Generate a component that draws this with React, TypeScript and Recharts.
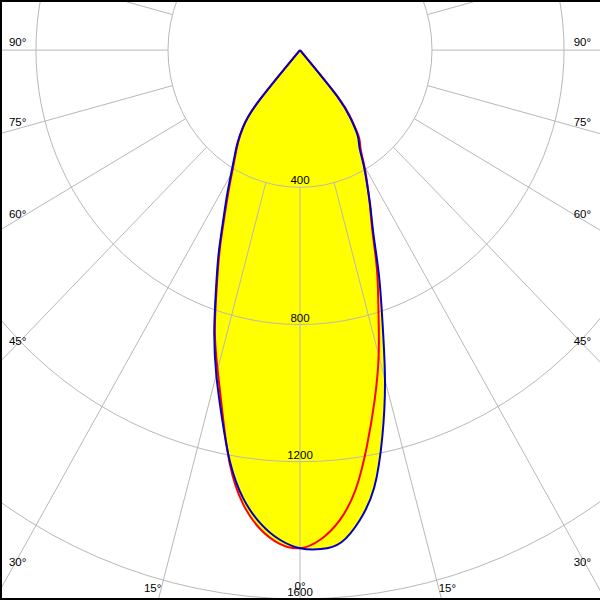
import React from "react";
import {
  ScatterChart,
  Scatter,
  XAxis,
  YAxis,
  ReferenceArea,
  ReferenceLine,
  ReferenceDot,
  Curve,
} from "recharts";

// gamma = angle from nadir (deg), intensities in cd
const gammaDeg = [0, 2.5, 5, 7.5, 10, 12.5, 15, 17.5, 20, 22.5, 25, 27.5, 30, 32.5, 35, 37.5, 40, 42.5, 45];
// C0 / C180 plane (red)
const redRight = [1452, 1428, 1376, 1292, 1170, 1045, 921, 790, 682, 575, 502, 442, 390, 342, 312, 260, 178, 0, 0];
const redLeft = [1452, 1440, 1400, 1332, 1225, 1085, 965, 858, 738, 638, 545, 472, 412, 365, 326, 282, 198, 0, 0];
// C90 / C270 plane (blue)
const blueRight = [1452, 1456, 1440, 1383, 1295, 1153, 995, 831, 700, 582, 505, 440, 385, 335, 305, 253, 175, 0, 0];
const blueLeft = [1452, 1428, 1384, 1318, 1220, 1095, 980, 864, 745, 645, 552, 480, 418, 370, 330, 285, 200, 0, 0];

const rings = [400, 800, 1200, 1600];
const ringLabels = ["400", "800", "1200", "1600"];
const spokeAngles = [0, 15, 30, 45, 60, 75, 90, 105, 120, 135, 150, 165, 180, 195, 210, 225, 240, 255, 270, 285, 300, 315, 330, 345];
const angleLabels = [0, 15, 30, 45, 60, 75, 90];

const W = 600;
const H = 600;
const X_DOMAIN = [-909, 909];
const Y_DOMAIN = [-1603, 146];
const SPOKE_OUT = 2600;
const SIDE_X = 882; // where side labels sit
const BOTTOM_Y = 1568; // where bottom labels sit
const GRID = "#b8b8b8";
const FONT = "'Liberation Sans', Arial, sans-serif";

const rad = (d: number) => (d * Math.PI) / 180;

// right half from the top cusp down to nadir, then left half back up
function toPoints(right: number[], left: number[]) {
  const pts: { x: number; y: number }[] = [];
  const push = (x: number, y: number) => {
    const last = pts[pts.length - 1];
    if (last && Math.abs(last.x - x) < 1e-9 && Math.abs(last.y - y) < 1e-9) return;
    pts.push({ x, y });
  };
  for (let i = gammaDeg.length - 1; i >= 0; i--) {
    const g = rad(gammaDeg[i]);
    push(right[i] * Math.sin(g), -right[i] * Math.cos(g));
  }
  for (let i = 1; i < gammaDeg.length; i++) {
    const g = rad(gammaDeg[i]);
    push(-left[i] * Math.sin(g), -left[i] * Math.cos(g));
  }
  return pts;
}

const redPts = toPoints(redRight, redLeft);
const bluePts = toPoints(blueRight, blueLeft);

const noDot = () => null;
const yellowFill = (p: any) => <Curve points={p.points} type="natural" fill="#ffff00" stroke="none" />;

export default function App() {
  const labelDots: { x: number; y: number; text: string; anchor: string; dy: number }[] = [];
  angleLabels.forEach((a) => {
    const g = rad(a);
    const sides = a === 0 ? [0] : [-1, 1];
    sides.forEach((s) => {
      if (a >= 30) {
        labelDots.push({
          x: s * SIDE_X,
          y: (-SIDE_X * Math.cos(g)) / Math.sin(g),
          text: `${a}°`,
          anchor: s < 0 ? "start" : "end",
          dy: -8 - 5 * Math.cos(g),
        });
      } else {
        labelDots.push({
          x: s * BOTTOM_Y * Math.tan(g),
          y: -BOTTOM_Y,
          text: `${a}°`,
          anchor: s < 0 ? "end" : s > 0 ? "start" : "middle",
          dy: a === 0 ? -2 : 0,
        });
      }
    });
  });

  return (
    <div style={{ position: "absolute", left: 0, top: 0, width: W, height: H, overflow: "hidden", background: "#fff" }}>
      <ScatterChart width={W} height={H} margin={{ top: 0, right: 0, bottom: 0, left: 0 }}>
        <XAxis type="number" dataKey="x" domain={X_DOMAIN} allowDataOverflow hide />
        <YAxis type="number" dataKey="y" domain={Y_DOMAIN} allowDataOverflow hide />

        {/* yellow lobes */}
        <Scatter data={redPts} shape={noDot} line={yellowFill} isAnimationActive={false} zIndex={50} />
        <Scatter data={bluePts} shape={noDot} line={yellowFill} isAnimationActive={false} zIndex={50} />

        {/* grid rings */}
        {rings.map((r) => (
          <ReferenceArea
            key={`ring-${r}`}
            x1={-r}
            x2={r}
            y1={-r}
            y2={r}
            ifOverflow="visible"
            zIndex={100}
            shape={(p: any) => (
              <ellipse
                cx={p.x + p.width / 2}
                cy={p.y + p.height / 2}
                rx={Math.abs(p.width) / 2}
                ry={Math.abs(p.height) / 2}
                fill="none"
                stroke={GRID}
                strokeWidth={1}
              />
            )}
          />
        ))}

        {/* spokes */}
        {spokeAngles.map((a) => {
          const g = rad(a);
          return (
            <ReferenceLine
              key={`spoke-${a}`}
              segment={[
                { x: rings[0] * Math.sin(g), y: -rings[0] * Math.cos(g) },
                { x: SPOKE_OUT * Math.sin(g), y: -SPOKE_OUT * Math.cos(g) },
              ]}
              ifOverflow="visible"
              stroke={GRID}
              strokeWidth={1}
              zIndex={100}
            />
          );
        })}

        <Scatter data={redPts} shape={noDot} line={{ stroke: "#ff0000", strokeWidth: 2 }} lineJointType="natural" isAnimationActive={false} zIndex={600} />
        <Scatter data={bluePts} shape={noDot} line={{ stroke: "#0000c8", strokeWidth: 2 }} lineJointType="natural" isAnimationActive={false} zIndex={600} />

        {rings.map((r, i) => (
          <ReferenceDot
            key={`rl-${r}`}
            x={0}
            y={-r}
            r={0}
            zIndex={2000}
            shape={(p: any) => (
              <text x={p.cx} y={p.cy - 3} textAnchor="middle" fontSize={11.5} fontFamily={FONT} fill="#000">
                {ringLabels[i]}
              </text>
            )}
          />
        ))}

        {labelDots.map((l, i) => (
          <ReferenceDot
            key={`al-${i}`}
            x={l.x}
            y={l.y}
            r={0}
            zIndex={2000}
            shape={(p: any) => (
              <text
                x={p.cx}
                y={p.cy + l.dy}
                textAnchor={l.anchor}
                dominantBaseline="central"
                fontSize={11.5}
                fontFamily={FONT}
                fill="#000"
              >
                {l.text}
              </text>
            )}
          />
        ))}
      </ScatterChart>
      <div
        style={{
          position: "absolute",
          inset: 0,
          boxSizing: "border-box",
          borderLeft: "2px solid #000",
          borderTop: "2px solid #000",
          borderBottom: "2px solid #000",
          pointerEvents: "none",
        }}
      />
    </div>
  );
}
